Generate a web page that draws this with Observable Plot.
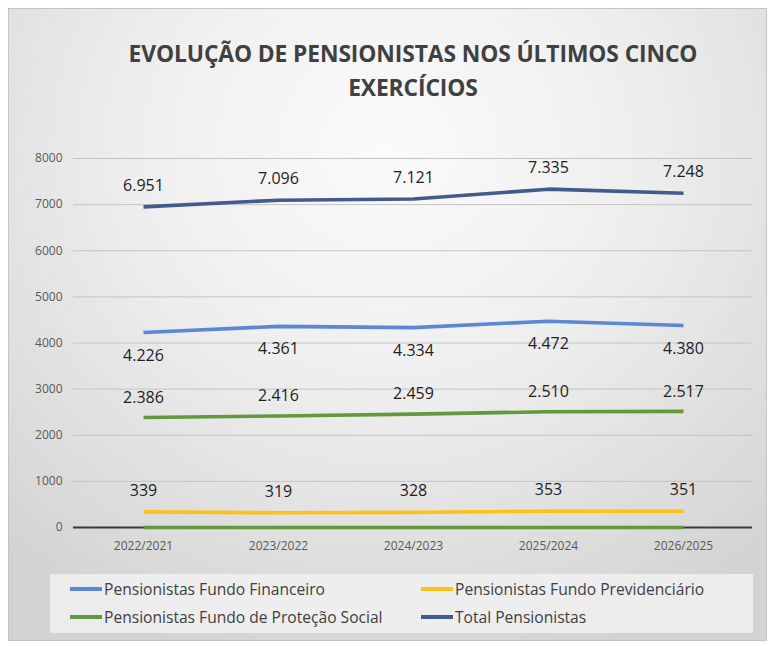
<!DOCTYPE html>
<html>
<head>
<meta charset="utf-8">
<script src="https://cdn.jsdelivr.net/npm/d3@7"></script>
<script src="https://cdn.jsdelivr.net/npm/@observablehq/plot@0.6"></script>
<style>
  html, body { margin: 0; padding: 0; background: #ffffff; }
  #wrap { position: relative; width: 769px; height: 646px; overflow: hidden; font-family: "Open Sans", sans-serif; }
  #frame { position: absolute; left: 8px; top: 8px; width: 757px; height: 631px; border: 1px solid #c4c4c4;
    background: radial-gradient(ellipse 75% 85% at 50% 22%, #fbfbfb 0%, #eeeeee 45%, #d3d3d3 100%); }
  #title { position: absolute; left: 57px; width: 712px; top: 37px; text-align: center; font-weight: 700;
    font-size: 22.8px; line-height: 34px; color: #404040; letter-spacing: -0.1px; }
  #chart { position: absolute; left: 0; top: 140px; }
  #legend { position: absolute; left: 50px; top: 574px; width: 703px; height: 59px; background: rgba(244,244,244,0.75); }
  .item { position: absolute; display: flex; align-items: center; font-size: 15.6px; color: #404040; height: 20px; }
  .sw { display: inline-block; width: 32px; height: 4px; margin-right: 2px; }
</style>
</head>
<body>
<div id="wrap">
  <div id="frame"></div>
  <div id="title">EVOLUÇÃO DE PENSIONISTAS NOS ÚLTIMOS CINCO<br>EXERCÍCIOS</div>
  <div id="chart"></div>
  <div id="legend"></div>
</div>
<script>
const categorias = ["2022/2021", "2023/2022", "2024/2023", "2025/2024", "2026/2025"];
const fundoFinanceiro = [4226, 4361, 4334, 4472, 4380];
const fundoPrevidenciario = [339, 319, 328, 353, 351];
const fundoProtecaoSocial = [2386, 2416, 2459, 2510, 2517];
const totalPensionistas = [6951, 7096, 7121, 7335, 7248];
const serieZero = [0, 0, 0, 0, 0];
const yTicks = [0, 1000, 2000, 3000, 4000, 5000, 6000, 7000, 8000];

const nomes = {
  fin: "Pensionistas Fundo Financeiro",
  prev: "Pensionistas Fundo Previdenciário",
  prot: "Pensionistas Fundo de Proteção Social",
  tot: "Total Pensionistas"
};
const cores = { fin: "#5b87d4", prev: "#fcc21a", prot: "#62993f", tot: "#425a8c", zero: "#62993f" };

function serie(key, vals) { return categorias.map((c, i) => ({ key, cat: c, v: vals[i] })); }
const dFin = serie("fin", fundoFinanceiro);
const dPrev = serie("prev", fundoPrevidenciario);
const dProt = serie("prot", fundoProtecaoSocial);
const dTot = serie("tot", totalPensionistas);
const dZero = serie("zero", serieZero);

const ptBR = d3.formatLocale({ decimal: ",", thousands: ".", grouping: [3], currency: ["R$", ""] });
const fmt = ptBR.format(",d");

const lineOpts = (k) => ({ x: "cat", y: "v", stroke: cores[k], strokeWidth: 3.6, strokeLinecap: "butt" });
const labelOpts = (dy) => ({ x: "cat", y: "v", text: d => fmt(d.v), dy, fontSize: 16, fill: "#1e1e1e" });

const chart = Plot.plot({
  width: 769,
  height: 427,
  marginTop: 18,
  marginBottom: 40,
  marginLeft: 73,
  marginRight: 17,
  style: { background: "transparent", fontFamily: "Open Sans, sans-serif", overflow: "visible" },
  x: { type: "point", domain: categorias, padding: 0.5, label: null },
  y: { domain: [0, 8000], label: null },
  marks: [
    Plot.ruleY(yTicks.filter(t => t > 0), { stroke: "#c4c4c4", strokeWidth: 1 }),
    Plot.ruleY([0], { stroke: "#3a3a3a", strokeWidth: 2 }),
    Plot.axisY({ ticks: yTicks, tickSize: 0, tickPadding: 11, tickFormat: d => String(d), fontSize: 12, fill: "#595959" }),
    Plot.axisX({ tickSize: 0, tickPadding: 14, fontSize: 12, fill: "#595959" }),
    Plot.line(dZero, lineOpts("zero")),
    Plot.line(dPrev, lineOpts("prev")),
    Plot.line(dProt, lineOpts("prot")),
    Plot.line(dFin, lineOpts("fin")),
    Plot.line(dTot, lineOpts("tot")),
    Plot.text(dTot, labelOpts(-21)),
    Plot.text(dFin, labelOpts(23)),
    Plot.text(dProt, labelOpts(-20)),
    Plot.text(dPrev, labelOpts(-21))
  ]
});
document.getElementById("chart").appendChild(chart);

const legend = document.getElementById("legend");
const itens = [
  { k: "fin", x: 20, y: 5 },
  { k: "prev", x: 371, y: 5 },
  { k: "prot", x: 20, y: 33 },
  { k: "tot", x: 371, y: 33 }
];
for (const it of itens) {
  const el = document.createElement("div");
  el.className = "item";
  el.style.left = it.x + "px";
  el.style.top = it.y + "px";
  const sw = document.createElement("span");
  sw.className = "sw";
  sw.style.background = cores[it.k];
  const tx = document.createElement("span");
  tx.textContent = nomes[it.k];
  el.appendChild(sw);
  el.appendChild(tx);
  legend.appendChild(el);
}
</script>
</body>
</html>
